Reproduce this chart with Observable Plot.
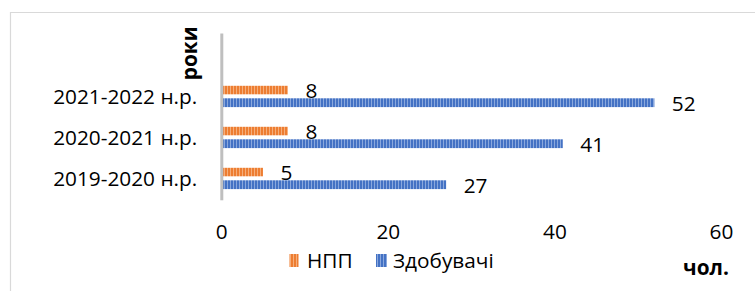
<!DOCTYPE html>
<html><head><meta charset="utf-8">
<script src="https://cdn.jsdelivr.net/npm/d3@7"></script>
<script src="https://cdn.jsdelivr.net/npm/@observablehq/plot@0.6"></script>
<style>
html,body{margin:0;padding:0;background:#fff;}
#chart{width:755px;height:291px;overflow:hidden;}
</style></head><body><div id="chart"></div>
<script>
const categories = ["2021-2022 н.р.", "2020-2021 н.р.", "2019-2020 н.р."];
const seriesNames = ["НПП", "Здобувачі"];
const nppValues = [8, 8, 5];
const zdobValues = [52, 41, 27];
const xTicks = [0, 20, 40, 60];
const yTitle = "роки";
const xTitle = "чол.";

const npp = categories.map((c, i) => ({category: c, value: nppValues[i]}));
const zdob = categories.map((c, i) => ({category: c, value: zdobValues[i]}));

const FONT = "'Open Sans', sans-serif";
const FS = 20.8;
const chart = Plot.plot({
  width: 755, height: 291,
  marginLeft: 221.3, marginRight: 34, marginTop: 33.5, marginBottom: 90.7,
  style: {fontFamily: FONT, fontSize: FS + "px", color: "#000", background: "#fff", overflow: "visible"},
  x: {domain: [0, 60]},
  y: {domain: ["", ...categories], padding: 0},
  marks: [
    Plot.barX(npp, {x: "value", y: "category", fill: "url(#patOrange)", insetTop: 9.8, insetBottom: 22.7}),
    Plot.barX(zdob, {x: "value", y: "category", fill: "url(#patBlue)", insetTop: 22.3, insetBottom: 9.9}),
    Plot.ruleX([0], {stroke: "#bfbfbf", strokeWidth: 3}),
    Plot.text(npp, {x: "value", y: "category", text: d => String(d.value), dx: 17, dy: -6, textAnchor: "start", fontSize: FS, fill: "#000"}),
    Plot.text(zdob, {x: "value", y: "category", text: d => String(d.value), dx: 17, dy: 7, textAnchor: "start", fontSize: FS, fill: "#000"}),
    Plot.axisX({ticks: xTicks, tickSize: 0, tickPadding: 23.5, fontSize: FS, label: null, tickFormat: d => String(d)}),
    Plot.axisY({tickSize: 0, tickPadding: 24.6, fontSize: FS, label: null})
  ]
});
document.getElementById("chart").appendChild(chart);

const svg = d3.select(chart);
const defs = svg.insert("defs", ":first-child");
function pattern(id, base, light) {
  const p = defs.append("pattern").attr("id", id).attr("patternUnits", "userSpaceOnUse")
    .attr("width", 3).attr("height", 10);
  p.append("rect").attr("width", 3).attr("height", 10).attr("fill", light);
  p.append("rect").attr("width", 2).attr("height", 10).attr("fill", base);
}
pattern("patOrange", "#ED7D31", "#F6AE7A");
pattern("patBlue", "#4472C4", "#8AA8DD");

// outer frame (partially visible)
svg.append("line").attr("x1", 10).attr("x2", 755).attr("y1", 12.5).attr("y2", 12.5)
  .attr("stroke", "#d9d9d9").attr("stroke-width", 1.2);
svg.append("line").attr("x1", 10.5).attr("x2", 10.5).attr("y1", 12).attr("y2", 291)
  .attr("stroke", "#d9d9d9").attr("stroke-width", 1.2);

// legend
const leg = svg.append("g").attr("font-family", FONT).attr("font-size", FS).attr("fill", "#000").attr("text-anchor", "start");
leg.append("rect").attr("x", 289.5).attr("y", 254).attr("width", 9).attr("height", 13).attr("fill", "url(#patOrange)");
leg.append("text").attr("x", 307).attr("y", 260.5).attr("dy", "0.35em").text(seriesNames[0]);
leg.append("rect").attr("x", 376).attr("y", 254).attr("width", 11).attr("height", 13).attr("fill", "url(#patBlue)");
leg.append("text").attr("x", 393).attr("y", 260.5).attr("dy", "0.35em").text(seriesNames[1]);

// axis titles
svg.append("text").attr("x", 706).attr("y", 275).attr("text-anchor", "middle")
  .attr("font-family", FONT).attr("font-size", FS).attr("font-weight", "bold").attr("fill", "#000").text(xTitle);
svg.append("text").attr("transform", "translate(197,53.3) rotate(-90)").attr("text-anchor", "middle")
  .attr("font-family", FONT).attr("font-size", FS).attr("font-weight", "bold").attr("fill", "#000").text(yTitle);
</script>
</body></html>
